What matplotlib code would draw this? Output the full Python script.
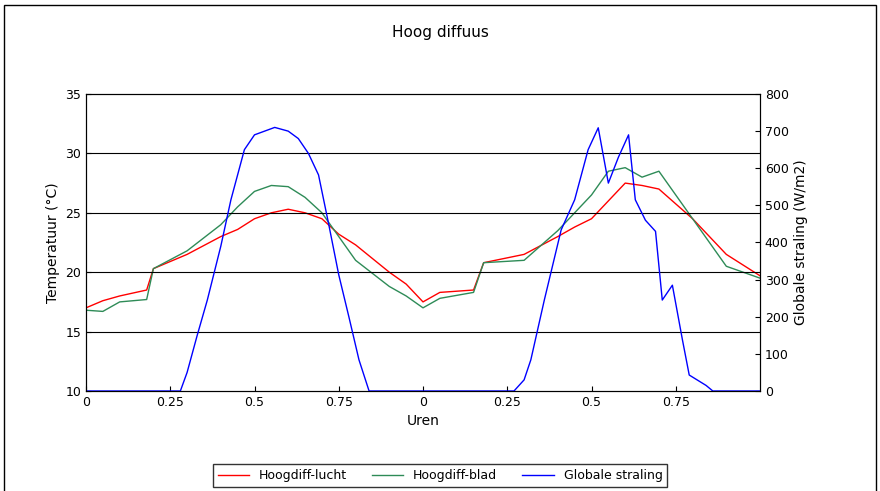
import matplotlib.pyplot as plt
from matplotlib.patches import Rectangle

# time in days (two consecutive days)
t_temp = [0, 0.05, 0.1, 0.18, 0.2, 0.3, 0.4, 0.45, 0.5, 0.55, 0.6, 0.65, 0.7, 0.75, 0.8, 0.9, 0.95,
          1.0, 1.05, 1.15, 1.18, 1.3, 1.4, 1.45, 1.5, 1.55, 1.6, 1.65, 1.7, 1.8, 1.9, 2.0]
lucht = [17.0, 17.6, 18.0, 18.5, 20.3, 21.5, 23.0, 23.6, 24.5, 25.0, 25.3, 25.0, 24.5, 23.2, 22.3, 20.0, 19.0,
         17.5, 18.3, 18.5, 20.8, 21.5, 23.0, 23.8, 24.5, 26.0, 27.5, 27.3, 27.0, 24.5, 21.5, 19.7]
blad = [16.8, 16.7, 17.5, 17.7, 20.3, 21.8, 24.0, 25.5, 26.8, 27.3, 27.2, 26.3, 25.0, 23.0, 21.0, 18.8, 18.0,
        17.0, 17.8, 18.3, 20.8, 21.0, 23.5, 25.0, 26.5, 28.5, 28.8, 28.0, 28.5, 24.5, 20.5, 19.5]

t_rad = [0, 0.28, 0.3, 0.33, 0.36, 0.4, 0.43, 0.47, 0.5, 0.53, 0.56, 0.6, 0.63, 0.66, 0.69, 0.72, 0.75, 0.78,
         0.81, 0.84, 1.0, 1.27, 1.3, 1.32, 1.36, 1.41, 1.45, 1.49, 1.52, 1.55, 1.58, 1.61, 1.63, 1.66, 1.69,
         1.71, 1.74, 1.77, 1.79, 1.84, 1.86, 2.0]
straling = [0, 0, 50, 150, 245, 390, 515, 650, 690, 700, 710, 700, 680, 640, 582, 450, 313, 200,
            84, 0, 0, 0, 30, 84, 245, 434, 515, 650, 709, 560, 630, 690, 515, 460, 430,
            245, 285, 137, 43, 15, 0, 0]

xticks = [0, 0.25, 0.5, 0.75, 1.0, 1.25, 1.5, 1.75]
xlabels = ['0', '0.25', '0.5', '0.75', '0', '0.25', '0.5', '0.75']

fig = plt.figure(figsize=(8.8, 4.91), dpi=100)
fig.patches.append(Rectangle((0.005, -0.1), 0.99, 1.09, transform=fig.transFigure,
                             fill=False, edgecolor='black', linewidth=1))
ax = fig.add_axes([86 / 880, 1 - 391 / 491, 674 / 880, 297 / 491])
ax2 = ax.twinx()

l1, = ax.plot(t_temp, lucht, color='red', linewidth=1, label='Hoogdiff-lucht')
l2, = ax.plot(t_temp, blad, color='#2e8b57', linewidth=1, label='Hoogdiff-blad')
l3, = ax2.plot(t_rad, straling, color='blue', linewidth=1, label='Globale straling')

ax.set_xlim(0, 2)
ax.set_ylim(10, 35)
ax2.set_ylim(0, 800)
ax.set_yticks(range(10, 36, 5))
ax2.set_yticks(range(0, 801, 100))
ax.set_xticks(xticks)
ax.set_xticklabels(xlabels)
for y in [15, 20, 25, 30]:
    ax.axhline(y, color='black', linewidth=0.8)
for a in (ax, ax2):
    a.tick_params(labelsize=9, direction='in')
ax.set_xlabel('Uren', fontsize=10)
ax.set_ylabel('Temperatuur (°C)', fontsize=10)
ax2.set_ylabel('Globale straling (W/m2)', fontsize=10)
fig.text(0.5, 0.925, 'Hoog diffuus', ha='center', fontsize=11)

fig.legend(handles=[l1, l2, l3], loc='lower center', bbox_to_anchor=(0.5, -0.005), ncol=3,
           fontsize=9, frameon=True, fancybox=False, edgecolor='black', handlelength=2.5)

fig.savefig('out.png', dpi=100)
